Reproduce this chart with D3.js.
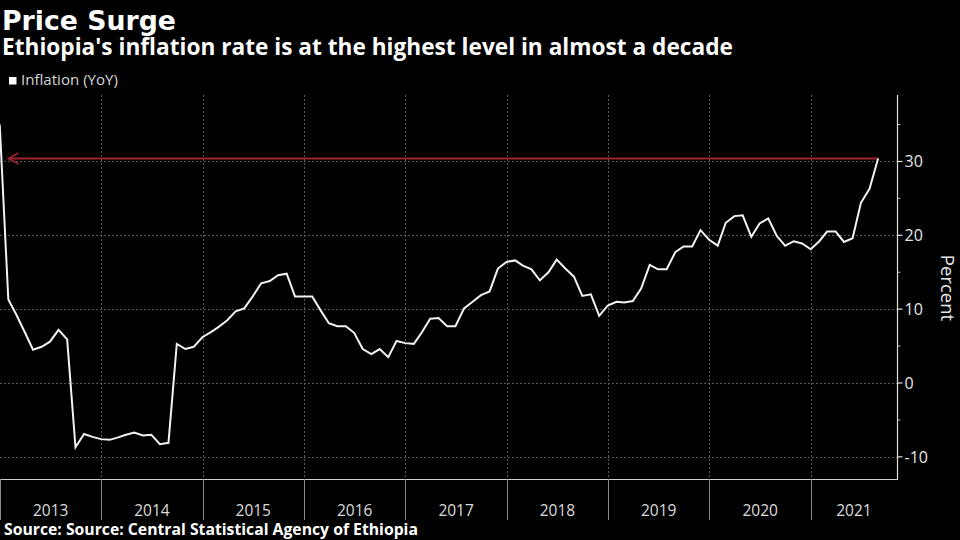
<!DOCTYPE html>
<html>
<head>
<meta charset="utf-8">
<script src="https://cdn.jsdelivr.net/npm/d3@7"></script>
<style>
  html, body { margin: 0; padding: 0; background: #000; }
  svg { display: block; }
  text { font-family: "Open Sans", "Noto Sans", sans-serif; }
</style>
</head>
<body>
<svg id="chart" width="960" height="540"></svg>
<script>
// ---- Data (month-end dates, Dec 2012 .. Aug 2021) ----
const startMonth = "2012-12";
const inflation = [
  35.0,
  11.3, 9.3, 6.9, 4.5, 4.9, 5.6, 7.2, 5.9, -8.7, -6.9, -7.3, -7.6,
  -7.7, -7.4, -7.0, -6.7, -7.1, -7.0, -8.3, -8.1, 5.3, 4.6, 4.9, 6.2,
  6.9, 7.6, 8.5, 9.7, 10.1, 11.7, 13.5, 13.8, 14.6, 14.8, 11.7, 11.7,
  11.7, 9.9, 8.1, 7.7, 7.7, 6.8, 4.6, 3.9, 4.6, 3.5, 5.7, 5.4,
  5.3, 6.8, 8.7, 8.8, 7.7, 7.7, 10.1, 11.0, 11.9, 12.4, 15.5, 16.4,
  16.6, 15.9, 15.4, 13.9, 15.0, 16.7, 15.5, 14.4, 11.8, 12.0, 9.1, 10.5,
  11.0, 10.9, 11.1, 12.8, 16.0, 15.4, 15.4, 17.7, 18.5, 18.5, 20.7, 19.4,
  18.6, 21.7, 22.6, 22.7, 19.8, 21.6, 22.3, 19.9, 18.6, 19.2, 18.9, 18.1,
  19.2, 20.5, 20.5, 19.1, 19.6, 24.4, 26.3, 30.4
];
const years = ["2013","2014","2015","2016","2017","2018","2019","2020","2021"];
const yMajorTicks = [-10, 0, 10, 20, 30];
const yMinorTicks = [-5, 5, 15, 25, 35];
const seriesName = "Inflation (YoY)";
const titleText = "Price Surge";
const subtitleText = "Ethiopia's inflation rate is at the highest level in almost a decade";
const sourceText = "Source: Source: Central Statistical Agency of Ethiopia";
const yLabel = "Percent";

// ---- Build dated series (month-end) ----
const [sy, sm] = startMonth.split("-").map(Number);
const data = inflation.map((v, i) => ({
  date: new Date(sy, sm - 1 + i + 1, 0), // last day of month
  value: v
}));

const svg = d3.select("#chart");
const W = 960, H = 540;
svg.append("rect").attr("width", W).attr("height", H).attr("fill", "#000");

const plot = { left: 0, right: 897, top: 95, bottom: 479 };

const x = d3.scaleTime()
  .domain([new Date(2013, 0, 1), new Date(2021, 10, 7)])
  .range([plot.left, plot.right]);
const y = d3.scaleLinear()
  .domain([-13, 39])
  .range([plot.bottom, plot.top]);

function fitWidth(sel, target) {
  const node = sel.node();
  const fs = parseFloat(sel.attr("font-size"));
  const w = node.getComputedTextLength();
  if (w > 0) sel.attr("font-size", (fs * target / w).toFixed(2));
}

// ---- Titles ----
const t1 = svg.append("text").attr("x", 2).attr("y", 30)
  .attr("fill", "#fff").attr("font-weight", "bold").attr("font-size", 26)
  .style("font-family", "'DejaVu Sans', 'Open Sans', sans-serif")
  .text(titleText);
fitWidth(t1, 174);
const t2 = svg.append("text").attr("x", 2).attr("y", 55)
  .attr("fill", "#fff").attr("font-weight", "bold").attr("font-size", 18)
  .text(subtitleText);
fitWidth(t2, 731);

// ---- Legend ----
svg.append("rect").attr("x", 9).attr("y", 77).attr("width", 7.5).attr("height", 7.5).attr("fill", "#fff");
const lg = svg.append("text").attr("x", 21).attr("y", 84.5)
  .attr("fill", "#d6d6d6").attr("font-size", 13).text(seriesName);
fitWidth(lg, 97);

// ---- Grid ----
svg.append("defs").append("clipPath").attr("id", "plotclip")
  .append("rect").attr("x", plot.left).attr("y", plot.top)
  .attr("width", plot.right - plot.left).attr("height", plot.bottom - plot.top);

const grid = svg.append("g");
grid.selectAll("line.h").data(yMajorTicks).join("line")
  .attr("x1", plot.left).attr("x2", plot.right)
  .attr("y1", d => Math.round(y(d)) + 0.5).attr("y2", d => Math.round(y(d)) + 0.5)
  .attr("stroke", "#5a5a5a").attr("stroke-width", 1).attr("stroke-dasharray", "2,2");

const yearStarts = years.map(yr => new Date(+yr, 0, 1));
grid.selectAll("line.v").data(yearStarts.slice(1)).join("line")
  .attr("x1", d => Math.round(x(d)) + 0.5).attr("x2", d => Math.round(x(d)) + 0.5)
  .attr("y1", plot.top).attr("y2", plot.bottom)
  .attr("stroke", "#5a5a5a").attr("stroke-width", 1).attr("stroke-dasharray", "2,2");

// ---- X axis ----
svg.append("line").attr("x1", plot.left).attr("x2", plot.right)
  .attr("y1", plot.bottom + 0.5).attr("y2", plot.bottom + 0.5)
  .attr("stroke", "#d0d0d0").attr("stroke-width", 1);
svg.append("g").selectAll("line").data(yearStarts).join("line")
  .attr("x1", d => Math.max(0.5, Math.round(x(d)) + 0.5)).attr("x2", d => Math.max(0.5, Math.round(x(d)) + 0.5))
  .attr("y1", plot.bottom).attr("y2", 520)
  .attr("stroke", "#8a8a8a").attr("stroke-width", 1);
svg.append("g").selectAll("text").data(years).join("text")
  .attr("x", d => {
    const a = x(new Date(+d, 0, 1));
    const b = Math.min(plot.right, x(new Date(+d + 1, 0, 1)));
    return (a + b) / 2;
  })
  .attr("y", 515.5)
  .attr("text-anchor", "middle")
  .attr("fill", "#dcdcdc").attr("font-size", 15.5)
  .text(d => d);

// ---- Y axis (right) ----
const yAxis = svg.append("g").attr("transform", `translate(${plot.right + 0.5},0)`);
yAxis.append("line").attr("x1", 0).attr("x2", 0).attr("y1", plot.top).attr("y2", plot.bottom + 1)
  .attr("stroke", "#e0e0e0").attr("stroke-width", 1.2);
yAxis.selectAll("line.maj").data(yMajorTicks).join("line")
  .attr("x1", 0).attr("x2", 5).attr("y1", d => y(d)).attr("y2", d => y(d))
  .attr("stroke", "#e0e0e0").attr("stroke-width", 1.2);
yAxis.selectAll("line.min").data(yMinorTicks).join("line").attr("class", "min")
  .attr("x1", 0).attr("x2", 3).attr("y1", d => y(d)).attr("y2", d => y(d))
  .attr("stroke", "#bdbdbd").attr("stroke-width", 1);
yAxis.selectAll("text").data(yMajorTicks).join("text")
  .attr("x", 7).attr("y", d => y(d)).attr("dy", "0.36em")
  .attr("fill", "#e6e6e6").attr("font-size", 16)
  .text(d => d < 0 ? "-" + Math.abs(d) : d);

svg.append("text")
  .attr("transform", `translate(941, ${(plot.top + plot.bottom) / 2 + 1}) rotate(90)`)
  .attr("text-anchor", "middle")
  .attr("fill", "#e6e6e6").attr("font-size", 18.5)
  .text(yLabel);

// ---- Reference line at latest value ----
const last = data[data.length - 1];
const first = data[1];
const refY = y(last.value);
const ref = svg.append("g");
ref.append("line").attr("x1", x(first.date)).attr("x2", x(last.date))
  .attr("y1", refY).attr("y2", refY)
  .attr("stroke", "#a3202f").attr("stroke-width", 2);
ref.append("path")
  .attr("d", `M${x(first.date) + 10},${refY - 5.5} L${x(first.date)},${refY} L${x(first.date) + 10},${refY + 5.5}`)
  .attr("fill", "none").attr("stroke", "#a3202f").attr("stroke-width", 1.6);

// ---- Line ----
const line = d3.line().x(d => x(d.date)).y(d => y(d.value));
svg.append("path").datum(data)
  .attr("clip-path", "url(#plotclip)")
  .attr("d", line)
  .attr("fill", "none").attr("stroke", "#f2f2f2").attr("stroke-width", 2)
  .attr("stroke-linejoin", "miter");

// ---- Source ----
const src = svg.append("text").attr("x", 4).attr("y", 535)
  .attr("fill", "#fff").attr("font-weight", "bold").attr("font-size", 14)
  .text(sourceText);
fitWidth(src, 414);
</script>
</body>
</html>
